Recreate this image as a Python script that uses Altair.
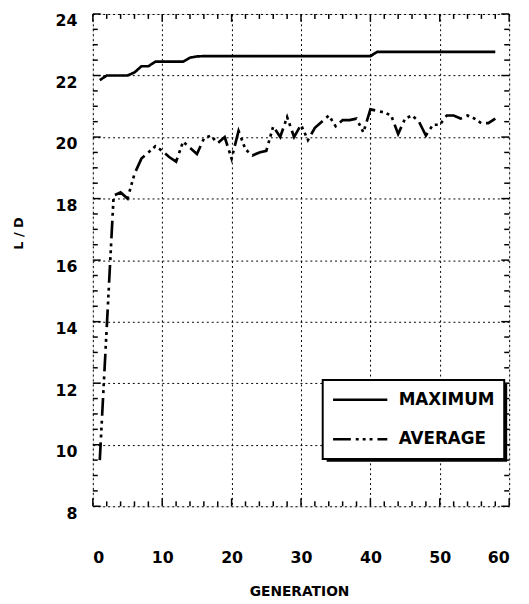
import altair as alt
import pandas as pd

generation = list(range(1, 59))
maximum = [21.85, 22.0, 22.0, 22.0, 22.0, 22.1, 22.3, 22.3, 22.45, 22.45,
           22.45, 22.45, 22.45, 22.58, 22.62, 22.63, 22.63, 22.63, 22.63, 22.63,
           22.63, 22.63, 22.63, 22.63, 22.63, 22.63, 22.63, 22.63, 22.63, 22.63,
           22.63, 22.63, 22.63, 22.63, 22.63, 22.63, 22.63, 22.63, 22.63, 22.63,
           22.77, 22.77, 22.77, 22.77, 22.77, 22.77, 22.77, 22.77, 22.77, 22.77,
           22.77, 22.77, 22.77, 22.77, 22.77, 22.77, 22.77, 22.77]
average = [9.5, 13.8, 18.1, 18.2, 18.0, 18.8, 19.3, 19.5, 19.7, 19.55,
           19.35, 19.2, 19.85, 19.65, 19.45, 19.95, 20.05, 19.8, 20.0, 19.3,
           20.2, 19.6, 19.4, 19.5, 19.55, 20.35, 20.0, 20.65, 20.0, 20.4,
           19.9, 20.3, 20.5, 20.7, 20.35, 20.55, 20.55, 20.6, 20.15, 20.9,
           20.85, 20.8, 20.7, 20.1, 20.6, 20.7, 20.5, 20.05, 20.4, 20.4,
           20.7, 20.7, 20.6, 20.7, 20.6, 20.45, 20.45, 20.6]
series_names = ["MAXIMUM", "AVERAGE"]

x_labels = [0, 10, 20, 30, 40, 50, 60]
y_labels = [8, 10, 12, 14, 16, 18, 20, 22, 24]
x_minor = [v for v in range(0, 61, 2) if v % 10 != 0]
x_major = x_labels
y_minor = [8 + 0.5 * i for i in range(33) if (8 + 0.5 * i) % 2 != 0]
y_major = y_labels

W, H = 422, 499
FONT = "DejaVu Sans"

df = pd.DataFrame({
    "GENERATION": generation * 2,
    "LD": maximum + average,
    "series": [series_names[0]] * len(generation) + [series_names[1]] * len(generation),
})

xscale = alt.Scale(domain=[0, 60], nice=False, zero=False)
yscale = alt.Scale(domain=[8, 24], nice=False, zero=False)

lines = alt.Chart(df).mark_line(color="black", strokeWidth=2.7).encode(
    x=alt.X("GENERATION:Q", scale=xscale,
            axis=alt.Axis(values=x_labels, title="GENERATION", ticks=False, domain=False,
                          grid=True, gridDash=[2, 3], gridColor="black", gridWidth=1,
                          labelFont=FONT, labelFontSize=16, labelFontWeight="bold",
                          labelColor="black", labelPadding=44,
                          titleFont=FONT, titleFontSize=14, titleFontWeight="bold",
                          titleColor="black", titleX=209, titleY=86, titleBaseline="middle")),
    y=alt.Y("LD:Q", scale=yscale,
            axis=alt.Axis(values=y_labels, title="L / D", ticks=False, domain=False,
                          grid=True, gridDash=[2, 3], gridColor="black", gridWidth=1,
                          labelFont=FONT, labelFontSize=16, labelFontWeight="bold",
                          labelColor="black", labelPadding=16, labelOffset=7,
                          titleFont=FONT, titleFontSize=13, titleFontWeight="bold",
                          titleColor="black", titleX=-75, titleY=222,
                          titleBaseline="middle", titleAlign="center")),
    strokeDash=alt.StrokeDash(
        "series:N",
        scale=alt.Scale(domain=series_names, range=[[1, 0], [18, 5, 3, 4, 3, 4, 3, 5]]),
        legend=alt.Legend(
            title=None, orient="none", legendX=233, legendY=371,
            fillColor="white", strokeColor="black",
            padding=9, symbolType="stroke", symbolSize=3025,
            symbolStrokeColor="black", symbolStrokeWidth=2.6,
            clipHeight=22, rowPadding=18, labelOffset=10,
            labelFont=FONT, labelFontSize=17, labelFontWeight="bold",
            labelColor="black")),
    detail="series:N",
)


def tick_layer(values, channel, length, side):
    d = pd.DataFrame({"v": values})
    base = alt.Chart(d).mark_rule(color="black", strokeWidth=1.5)
    if channel == "y":
        if side == "left":
            xs = dict(x=alt.value(0), x2=alt.value(length))
        else:
            xs = dict(x=alt.value(W - length), x2=alt.value(W))
        return base.encode(y=alt.Y("v:Q", scale=yscale), **xs)
    else:
        if side == "bottom":
            ys = dict(y=alt.value(H), y2=alt.value(H - length))
        else:
            ys = dict(y=alt.value(0), y2=alt.value(length))
        return base.encode(x=alt.X("v:Q", scale=xscale), **ys)


ticks = [
    tick_layer(y_major, "y", 8, "left"), tick_layer(y_minor, "y", 5, "left"),
    tick_layer(y_major, "y", 8, "right"), tick_layer(y_minor, "y", 5, "right"),
    tick_layer(x_major, "x", 8, "bottom"), tick_layer(x_minor, "x", 5, "bottom"),
    tick_layer(x_major, "x", 8, "top"), tick_layer(x_minor, "x", 5, "top"),
]

shadow = alt.Chart(pd.DataFrame({"a": [0]})).mark_rect(
    color="black", x=237, x2=420, y=375, y2=454
).encode(opacity=alt.value(1))

chart = alt.layer(lines, *ticks, shadow).properties(
    width=W, height=H,
    autosize=alt.AutoSizeParams(type="none"),
    padding={"left": 86, "top": 2, "right": 12, "bottom": 94},
).configure_view(stroke="black", strokeWidth=1.5).configure(background="white"
).configure_legend(strokeWidth=2)

chart.save("out.html", embed_options={"renderer": "svg", "actions": False})
